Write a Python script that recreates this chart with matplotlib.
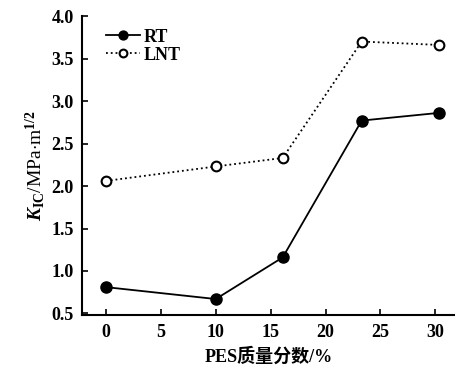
import matplotlib
matplotlib.use("Agg")
import matplotlib.pyplot as plt

# ---------------------------
# Data
# ---------------------------
pes_content = [0, 10, 16.1, 23.3, 30.3]          # PES mass fraction, %
kic_rt = [0.81, 0.67, 1.16, 2.77, 2.86]          # room temperature
kic_lnt = [2.06, 2.23, 2.33, 3.70, 3.66]         # liquid nitrogen temperature

x_ticks = [0, 5, 10, 15, 20, 25, 30]
y_ticks = [0.5, 1.0, 1.5, 2.0, 2.5, 3.0, 3.5, 4.0]

plt.rcParams["font.family"] = ["Liberation Serif", "Noto Sans CJK SC"]
plt.rcParams["font.weight"] = "bold"
plt.rcParams["mathtext.fontset"] = "custom"
plt.rcParams["mathtext.rm"] = "Liberation Serif:bold"
plt.rcParams["mathtext.it"] = "Liberation Serif:italic:bold"


def main():
    fig = plt.figure(figsize=(4.55, 3.73), dpi=100)
    ax = fig.add_axes([0.180, 0.155, 0.820, 0.802])

    ax.plot(pes_content, kic_rt, "-o", color="black", lw=1.3,
            ms=8, mfc="black", mec="black", label="RT")
    ax.plot(pes_content, kic_lnt, ":o", color="black", lw=1.3,
            ms=7, mfc="white", mec="black", mew=1.5, label="LNT")

    ax.set_xlim(-2.2, 31.8)
    ax.set_ylim(0.48, 4.0)
    ax.set_xticks(x_ticks)
    ax.set_yticks(y_ticks)
    ax.set_xticklabels([str(v) for v in x_ticks])
    ax.set_yticklabels([f"{v:.1f}" for v in y_ticks])

    for side in ["top", "right"]:
        ax.spines[side].set_visible(False)
    for side in ["left", "bottom"]:
        ax.spines[side].set_linewidth(1.5)
    ax.tick_params(direction="in", length=4, width=1.2, labelsize=13, pad=6)

    ax.set_xlabel("PES质量分数/%", fontsize=13, fontweight="bold", labelpad=5,
                  family=["Liberation Serif", "Noto Sans CJK SC"])
    ax.set_ylabel(r"$K_{\rm IC}$/MPa$\cdot$m$^{1/2}$", fontsize=14, labelpad=3)

    ax.legend(loc="upper left", frameon=False, fontsize=13, handlelength=1.9,
              handletextpad=0.2, labelspacing=0.05, borderaxespad=0.3,
              markerscale=0.8, bbox_to_anchor=(0.03, 1.0))

    fig.savefig("out.png", dpi=100)
    plt.close(fig)


if __name__ == "__main__":
    main()
